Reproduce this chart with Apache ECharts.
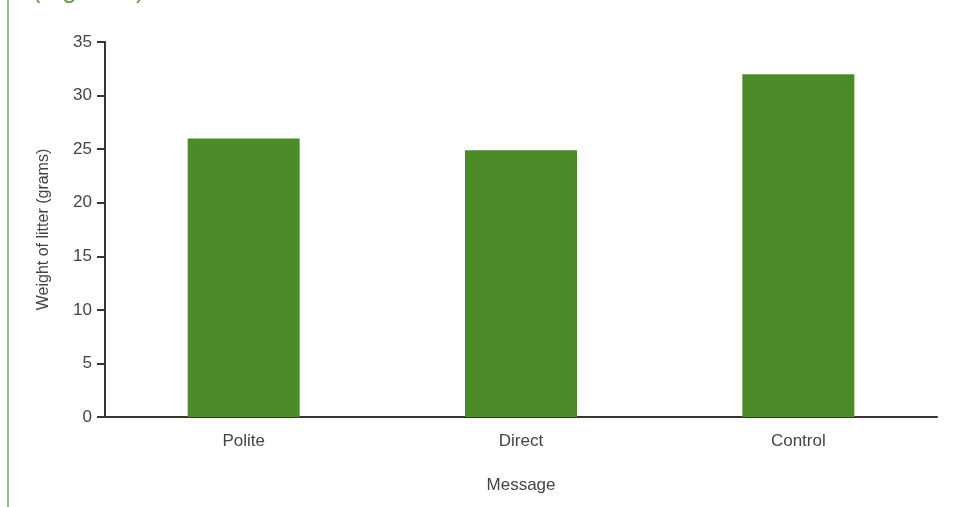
<!DOCTYPE html>
<html><head><meta charset="utf-8">
<script src="https://cdn.jsdelivr.net/npm/echarts@6/dist/echarts.min.js"></script>
<style>html,body{margin:0;padding:0;background:#fff}#c{width:976px;height:507px}</style>
</head><body><div id="c"></div>
<script>
const categories = ['Polite', 'Direct', 'Control'];
const values = [26, 24.9, 32];
const yTicks = [0, 5, 10, 15, 20, 25, 30, 35];

const chart = echarts.init(document.getElementById('c'));
const font = '"Liberation Sans", Arial, sans-serif';
chart.setOption({
  animation: false,
  graphic: [
    { type: 'rect', shape: { x: 7, y: 0, width: 2, height: 507 }, style: { fill: '#9bb88a' } },
    { type: 'text', left: 32, top: -22, style: { text: '(Figure 1)', fill: '#6e9b48', font: '26px ' + font } }
  ],
  grid: { left: 105, right: 39, top: 42, bottom: 90 },
  xAxis: {
    type: 'category', data: categories,
    name: 'Message', nameLocation: 'middle', nameGap: 60,
    nameTextStyle: { color: '#444', fontSize: 17, fontFamily: font },
    axisLine: { lineStyle: { color: '#3a3530', width: 2 } },
    axisTick: { show: false },
    axisLabel: { color: '#444', fontSize: 17, fontFamily: font, margin: 16 }
  },
  yAxis: {
    type: 'value', min: yTicks[0], max: yTicks[yTicks.length - 1], interval: 5,
    name: 'Weight of litter (grams)', nameLocation: 'middle', nameGap: 53,
    nameTextStyle: { color: '#444', fontSize: 16, fontFamily: font },
    axisLine: { show: true, lineStyle: { color: '#3a3530', width: 2 } },
    axisTick: { show: true, length: 8, lineStyle: { color: '#3a3530', width: 2 } },
    axisLabel: { color: '#444', fontSize: 17, fontFamily: font, margin: 13 },
    splitLine: { show: false }
  },
  series: [{
    type: 'bar', data: values, barWidth: 112,
    itemStyle: { color: '#4c8c28' }
  }]
});
</script></body></html>
